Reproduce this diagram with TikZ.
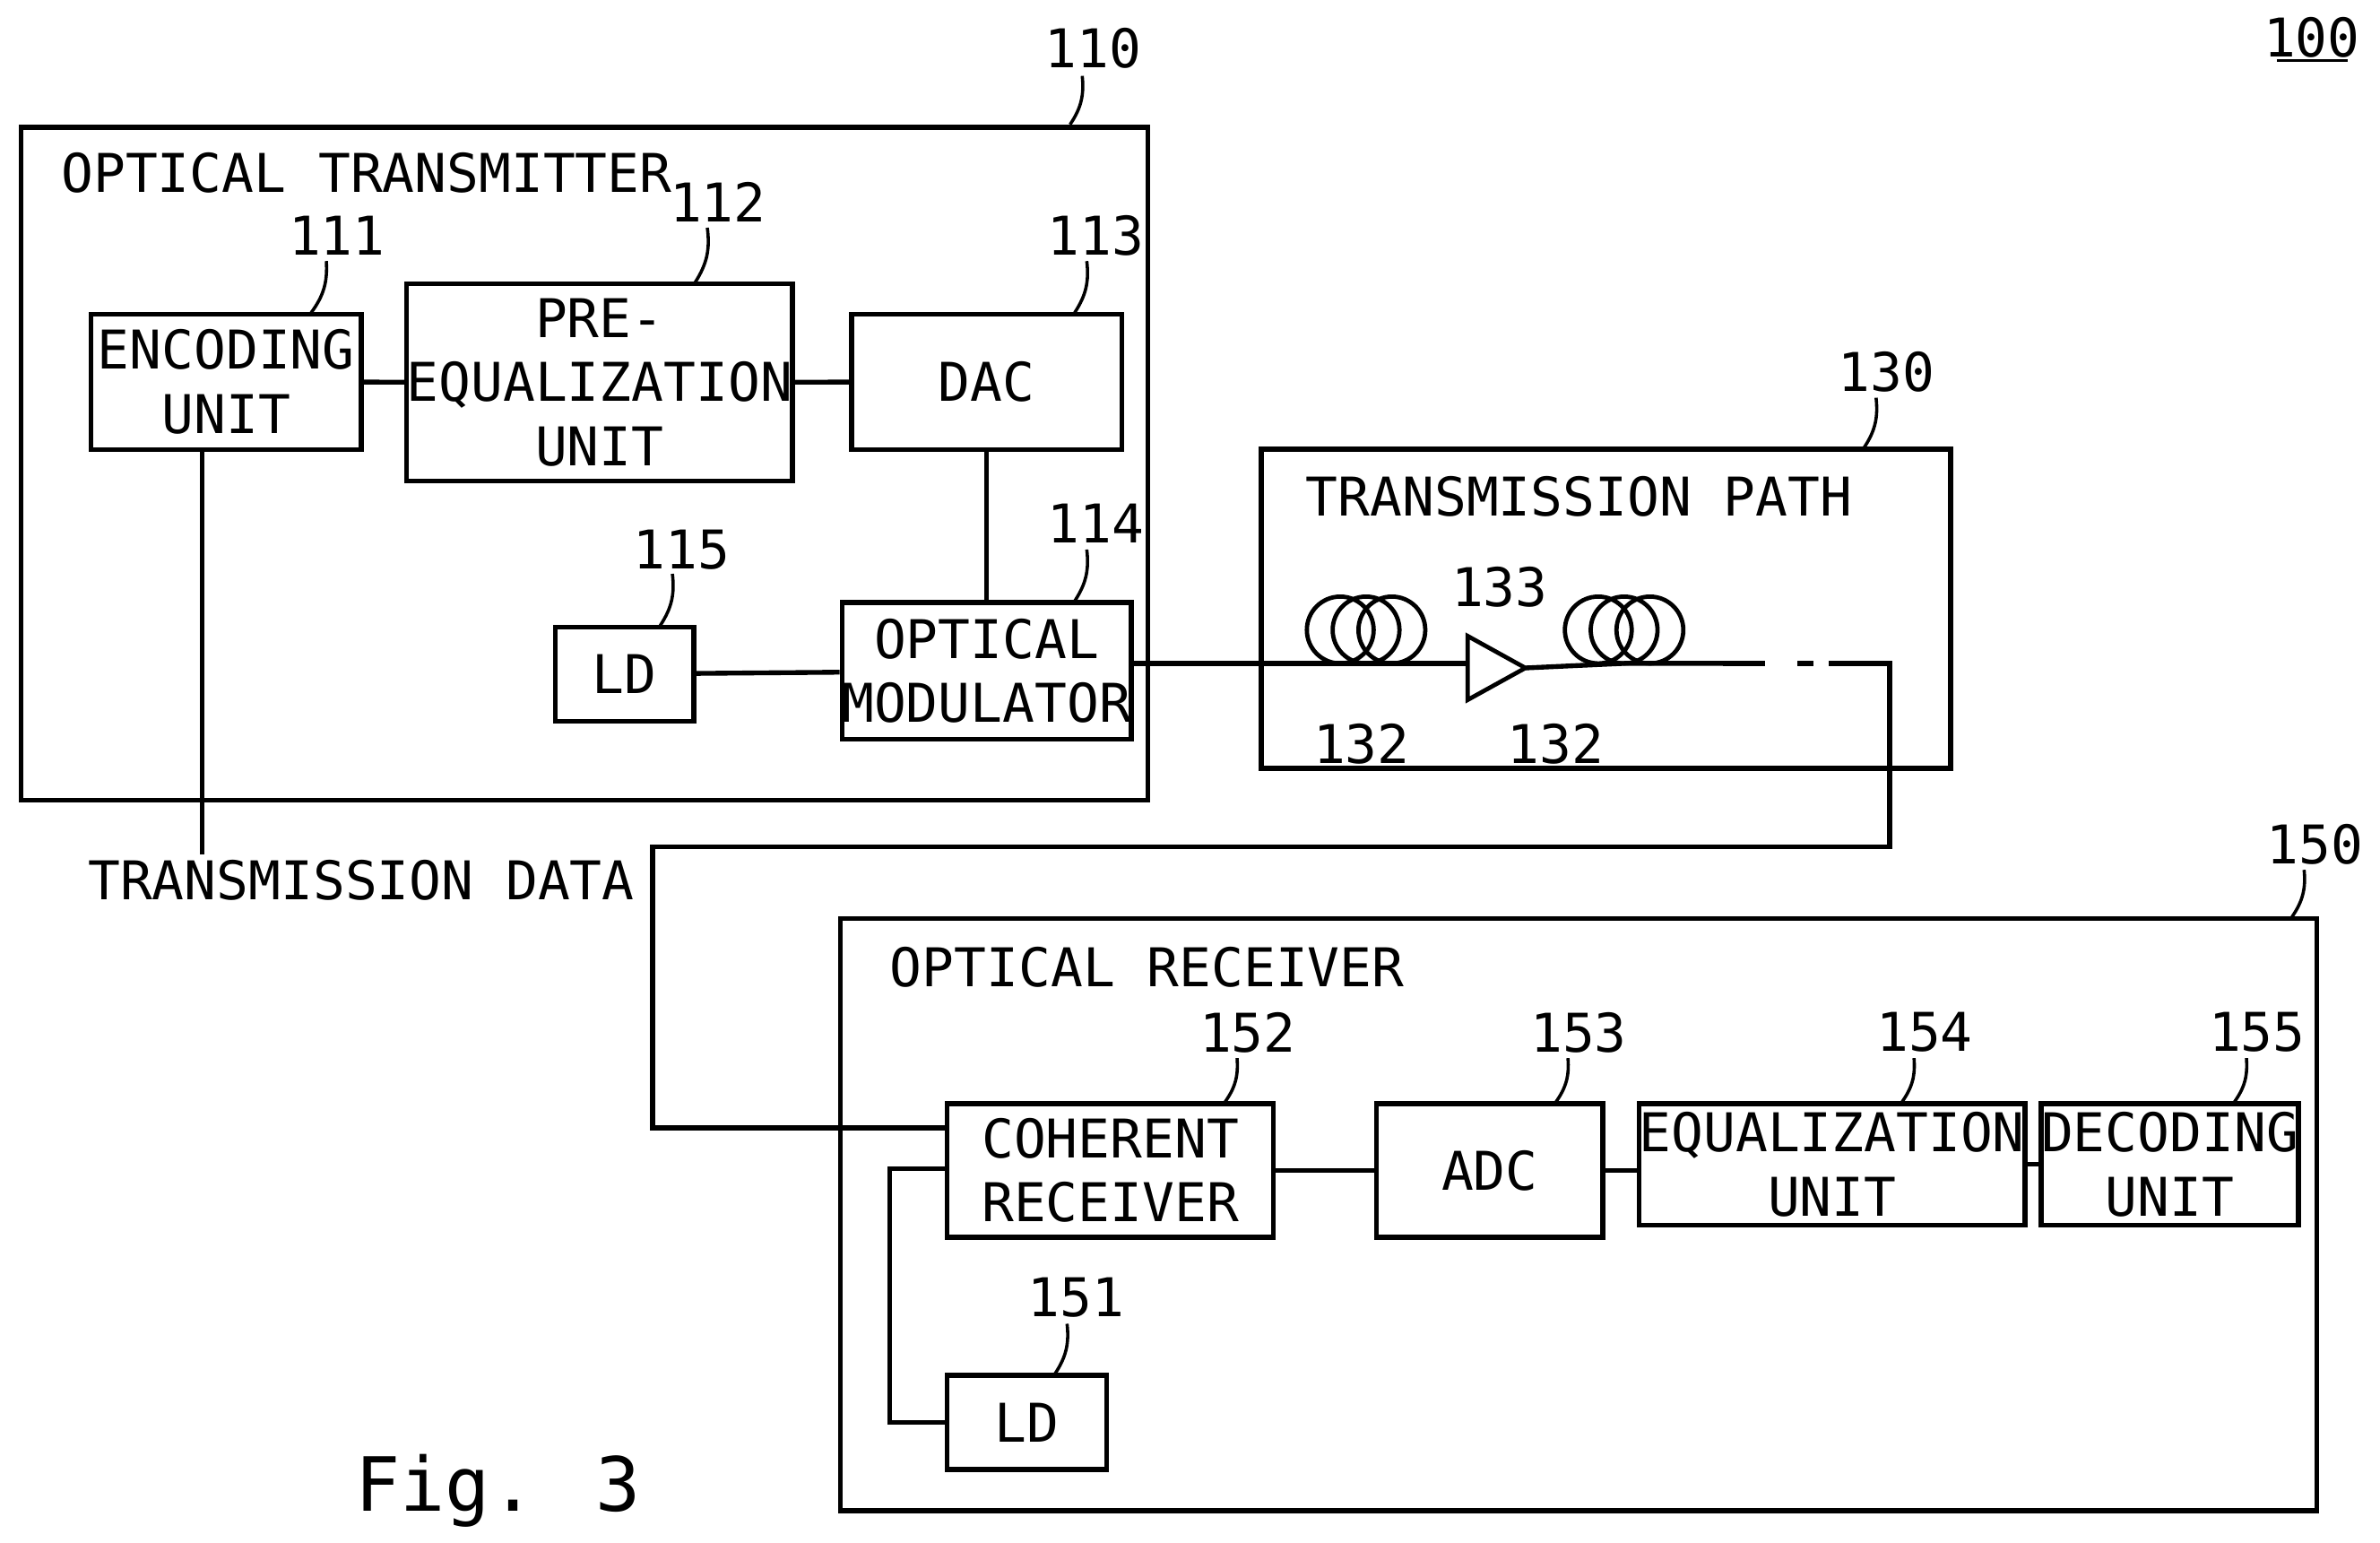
\documentclass[tikz,border=0pt]{standalone}
\usepackage{fontspec}
\setmainfont{DejaVu Sans Mono}
\begin{document}
\begin{tikzpicture}[x=0.01cm,y=-0.01cm,
  box/.style={draw=black,line width=0.9pt,align=center,inner sep=0pt,font=\fontsize{10}{12}\selectfont},
  ref/.style={font=\fontsize{10}{12}\selectfont},
  lead/.style={line width=0.6pt},
  wire/.style={line width=0.9pt}
]
  \useasboundingbox (0,0) rectangle (1568,1016);

  % transmitter
  \node[box,minimum width=7.42cm,minimum height=4.43cm] (tx) at (385,305.5) {};
  \node[ref,anchor=west] (txt) at (28,114) {OPTICAL TRANSMITTER};
  \node[box,minimum width=1.78cm,minimum height=0.89cm] (enc) at (149,251.5) {ENCODING\\UNIT};
  \node[box,minimum width=2.10cm,minimum height=1.30cm] (pre) at (395,252) {PRE-\\EQUALIZATION\\UNIT};
  \node[box,minimum width=1.78cm,minimum height=0.89cm] (dac) at (650,251.5) {DAC};
  \node[box,minimum width=0.91cm,minimum height=0.62cm] (ld1) at (411.5,444) {LD};
  \node[box,minimum width=1.78cm,minimum height=0.90cm] (mod) at (650,442) {OPTICAL\\MODULATOR};

  % transmission path
  \node[box,minimum width=4.54cm,minimum height=2.10cm] (path) at (1058,401) {};
  \node[ref,anchor=west] (patht) at (848,327) {TRANSMISSION PATH};
  \foreach \cx/\nm in {900/fa,1070/fb}{
    \foreach \dx in {-17,0,17}
      \draw[line width=0.8pt] (\cx+\dx,415) circle[radius=0.22cm];
    \coordinate (\nm) at (\cx,437);
  }
  \draw[line width=0.8pt] (967,419) -- (1005,440) -- (967,461) -- cycle;
  \coordinate (amp) at (1005,440);
  \node[ref] (t132a) at (897,490) {132};
  \node[ref] (t132b) at (1025,490) {132};
  \node[ref] (t133) at (988,387) {133};

  % receiver
  \node[box,minimum width=9.72cm,minimum height=3.90cm] (rx) at (1040,800) {};
  \node[ref,anchor=west] (rxt) at (574,637) {OPTICAL RECEIVER};
  \node[box,minimum width=2.15cm,minimum height=0.88cm] (coh) at (731.5,771) {COHERENT\\RECEIVER};
  \node[box,minimum width=1.49cm,minimum height=0.88cm] (adc) at (981.5,771) {ADC};
  \node[box,minimum width=2.12cm,minimum height=0.80cm] (equ) at (1207,767) {EQUALIZATION\\UNIT};
  \node[box,minimum width=1.51cm,minimum height=0.80cm] (dec) at (1429.5,767) {DECODING\\UNIT};
  \node[box,minimum width=1.05cm,minimum height=0.62cm] (ld2) at (676.5,937) {LD};

  % wires
  \draw[wire] (enc) -- (pre);
  \draw[wire] (pre) -- (dac);
  \draw[wire] (dac) -- (mod);
  \draw[wire] (ld1) -- (mod);
  \draw[wire] (mod.east |- 0,437) -- (fa) -- (967,437);
  \draw[wire] (amp) -- (fb) -- (1135,437);
  \draw[wire,dash pattern=on 8pt off 6pt] (1135,437) -- (1195,437);
  \coordinate (c1) at (1245,437);
  \coordinate (c2) at (1245,558);
  \coordinate (c3) at (430,558);
  \coordinate (c4) at (430,743);
  \draw[wire] (1205,437) -- (c1) -- (c2) -- (c3) -- (c4) -- (coh.west |- c4);
  \coordinate (c5) at (586,937);
  \coordinate (c6) at (586,770);
  \draw[wire] (ld2.west) -- (c5) -- (c6) -- (coh.west |- c6);
  \draw[wire] (coh) -- (adc);
  \draw[wire] (adc) -- (equ.west |- adc);
  \draw[wire] (equ) -- (dec);
  \node[ref] (data) at (238,580) {TRANSMISSION DATA};
  \draw[wire] (133,296) -- (133,563);

  % reference numerals
  \foreach \t/\x/\y/\ax/\ay/\bx/\by in {
    110/720/32/713/50/705/82, 111/222/155/215/172/205/206,
    112/473/133/466/150/458/186, 113/722/155/716/172/708/206,
    114/722/345/716/362/708/396, 115/449/362/443/378/435/412,
    130/1243/245/1236/262/1228/295, 150/1525/556/1518/573/1510/604,
    152/822/680/815/697/807/726, 153/1040/680/1033/697/1025/726,
    154/1268/680/1261/697/1253/726, 155/1487/680/1480/697/1472/726,
    151/709/855/703/872/695/905}{
    \node[ref] (n\t) at (\x,\y) {\t};
    \draw[lead] (\ax,\ay) to[bend left=20] (\bx,\by);
  }
  \node[ref] (n100) at (1523,25) {100};
  \draw[lead] (1500,40) -- (1547,40);
  \node[font=\fontsize{14}{16}\selectfont] (fig) at (328,982) {Fig. 3};
\end{tikzpicture}
\end{document}
